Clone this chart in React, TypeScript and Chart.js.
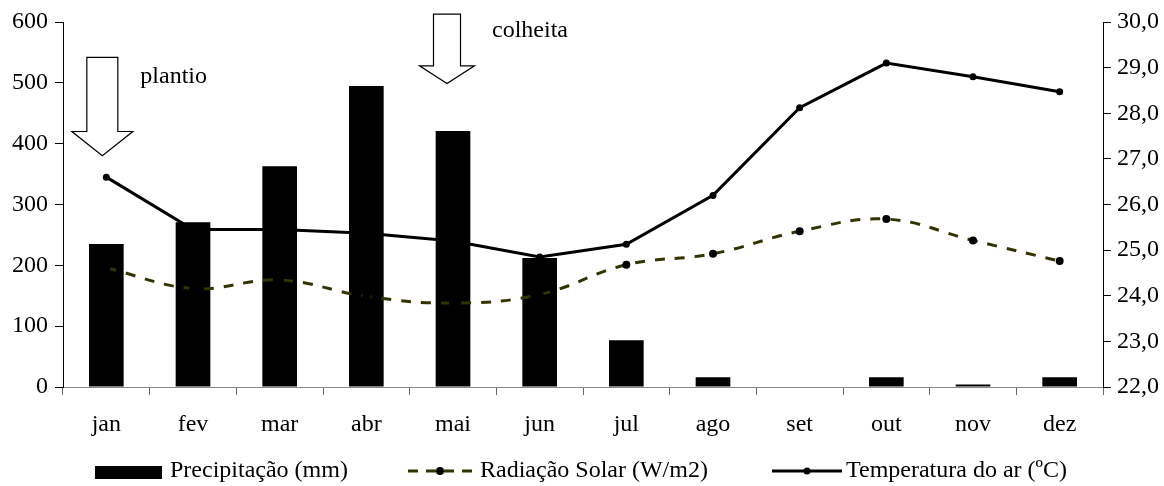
import React, { useEffect, useRef } from 'react';
import { Chart, registerables } from 'chart.js';

Chart.register(...registerables);

// ---- data ----
const months = ['jan', 'fev', 'mar', 'abr', 'mai', 'jun', 'jul', 'ago', 'set', 'out', 'nov', 'dez'];
const precipitation = [235, 271, 363, 495, 421, 212, 77, 16, 0, 16, 4, 16];
const radiation = [196, 162, 176, 149, 138, 152, 201, 219, 256, 276, 241, 207];
const temperature = [26.6, 25.45, 25.45, 25.37, 25.2, 24.85, 25.13, 26.2, 28.12, 29.1, 28.8, 28.47];

const leftMin = 0;
const leftMax = 600;
const leftStep = 100;
const rightMin = 22;
const rightMax = 30;
const rightStep = 1;

const seriesNames = ['Precipitação (mm)', 'Radiação Solar (W/m2)', 'Temperatura do ar (ºC)'];

// annotations anchored to the month axis and the left (mm) axis
const arrowNotes = [
  { text: 'plantio', month: 'jan', tip: 380, head: 420, top: 542, textValue: 510 },
  { text: 'colheita', month: 'mai', tip: 499, head: 528, top: 613, textValue: 585 },
];

const FONT = '"Liberation Serif", "Times New Roman", serif';
const FS = 24;
const OLIVE = '#333300';

export default function App() {
  const ref = useRef<HTMLCanvasElement | null>(null);

  useEffect(() => {
    const canvas = ref.current;
    if (!canvas) return;

    const notesPlugin = {
      id: 'notes',
      afterDraw(chart: any) {
        const ctx = chart.ctx as CanvasRenderingContext2D;
        const xs = chart.scales.x;
        const ys = chart.scales.y;
        ctx.save();
        const sizes = [
          { dx: -4, shaft: 31, headW: 61, textDx: 34 },
          { dx: -6, shaft: 27, headW: 55, textDx: 39 },
        ];
        arrowNotes.forEach((n, i) => {
          const s = sizes[i];
          const cx = xs.getPixelForValue(months.indexOf(n.month)) + s.dx;
          const yTip = ys.getPixelForValue(n.tip);
          const yHead = ys.getPixelForValue(n.head);
          const yTop = ys.getPixelForValue(n.top);
          ctx.beginPath();
          ctx.moveTo(cx - s.shaft / 2, yTop);
          ctx.lineTo(cx + s.shaft / 2, yTop);
          ctx.lineTo(cx + s.shaft / 2, yHead);
          ctx.lineTo(cx + s.headW / 2, yHead);
          ctx.lineTo(cx, yTip);
          ctx.lineTo(cx - s.headW / 2, yHead);
          ctx.lineTo(cx - s.shaft / 2, yHead);
          ctx.closePath();
          ctx.fillStyle = '#fff';
          ctx.fill();
          ctx.lineWidth = 1.2;
          ctx.strokeStyle = '#000';
          ctx.stroke();
          ctx.fillStyle = '#000';
          ctx.font = `${FS}px ${FONT}`;
          ctx.textBaseline = 'middle';
          ctx.textAlign = 'left';
          ctx.fillText(n.text, cx - s.dx + s.textDx, ys.getPixelForValue(n.textValue));
        });

        // legend
        const ly = 471;
        ctx.font = `${FS}px ${FONT}`;
        ctx.textBaseline = 'middle';
        ctx.fillStyle = '#000';
        ctx.fillRect(95, 466, 67, 13);
        ctx.fillText(seriesNames[0], 170, ly);

        ctx.save();
        ctx.strokeStyle = OLIVE;
        ctx.lineWidth = 3;
        ctx.setLineDash([10, 8]);
        ctx.beginPath();
        ctx.moveTo(408, ly);
        ctx.lineTo(477, ly);
        ctx.stroke();
        ctx.restore();
        ctx.beginPath();
        ctx.arc(440, ly, 4, 0, Math.PI * 2);
        ctx.fill();
        ctx.fillText(seriesNames[1], 480, ly);

        ctx.strokeStyle = '#000';
        ctx.lineWidth = 3;
        ctx.beginPath();
        ctx.moveTo(772, ly);
        ctx.lineTo(842, ly);
        ctx.stroke();
        ctx.beginPath();
        ctx.arc(807, ly, 3.5, 0, Math.PI * 2);
        ctx.fill();
        ctx.fillText(seriesNames[2], 846, ly);
        ctx.restore();
      },
    };

    const chart = new Chart(canvas, {
      type: 'bar',
      data: {
        labels: months,
        datasets: [
          {
            type: 'line',
            label: seriesNames[2],
            data: temperature,
            yAxisID: 'y1',
            borderColor: '#000',
            borderWidth: 3,
            pointRadius: 3.5,
            pointBackgroundColor: '#000',
            pointBorderWidth: 0,
            tension: 0,
            order: 1,
          } as any,
          {
            type: 'line',
            label: seriesNames[1],
            data: radiation,
            yAxisID: 'y',
            borderColor: OLIVE,
            borderWidth: 3,
            borderDash: [10, 10],
            pointRadius: 4,
            pointBackgroundColor: '#000',
            pointBorderWidth: 0,
            tension: 0.4,
            order: 2,
          } as any,
          {
            type: 'bar',
            label: seriesNames[0],
            data: precipitation,
            yAxisID: 'y',
            backgroundColor: '#000',
            borderWidth: 0,
            barPercentage: 0.4,
            categoryPercentage: 1,
            order: 3,
          },
        ],
      },
      options: {
        responsive: false,
        animation: false,
        devicePixelRatio: 1,
        layout: { padding: { top: 22, left: 0, right: 0, bottom: 0 } },
        plugins: {
          legend: { display: false },
          tooltip: { enabled: false },
        },
        scales: {
          x: {
            type: 'category',
            offset: true,
            grid: {
              display: true,
              drawOnChartArea: false,
              drawTicks: true,
              tickLength: 8,
              color: '#666',
              offset: true,
            },
            border: { display: true, color: '#888', width: 1 },
            ticks: { color: '#000', font: { family: FONT, size: FS }, padding: 15 },
            afterFit: (s: any) => {
              s.height = 99;
            },
          },
          y: {
            position: 'left',
            min: leftMin,
            max: leftMax,
            grid: {
              display: true,
              drawOnChartArea: false,
              drawTicks: true,
              tickLength: 8,
              color: '#000',
            },
            border: { display: true, color: '#000', width: 1 },
            ticks: {
              stepSize: leftStep,
              color: '#000',
              font: { family: FONT, size: FS },
              padding: 7,
            },
            afterFit: (s: any) => {
              s.width = 63;
            },
          },
          y1: {
            position: 'right',
            min: rightMin,
            max: rightMax,
            grid: {
              display: true,
              drawOnChartArea: false,
              drawTicks: true,
              tickLength: 8,
              color: '#000',
            },
            border: { display: true, color: '#000', width: 1 },
            ticks: {
              stepSize: rightStep,
              color: '#000',
              font: { family: FONT, size: FS },
              padding: 6,
              callback: (v: any) => Number(v).toFixed(1).replace('.', ','),
            },
            afterFit: (s: any) => {
              s.width = 61;
            },
          },
        },
      },
      plugins: [notesPlugin],
    });

    return () => chart.destroy();
  }, []);

  return (
    <div style={{ position: 'absolute', left: 0, top: 0, width: 1164, height: 486, background: '#fff' }}>
      <canvas ref={ref} width={1164} height={486} style={{ display: 'block' }} />
    </div>
  );
}
